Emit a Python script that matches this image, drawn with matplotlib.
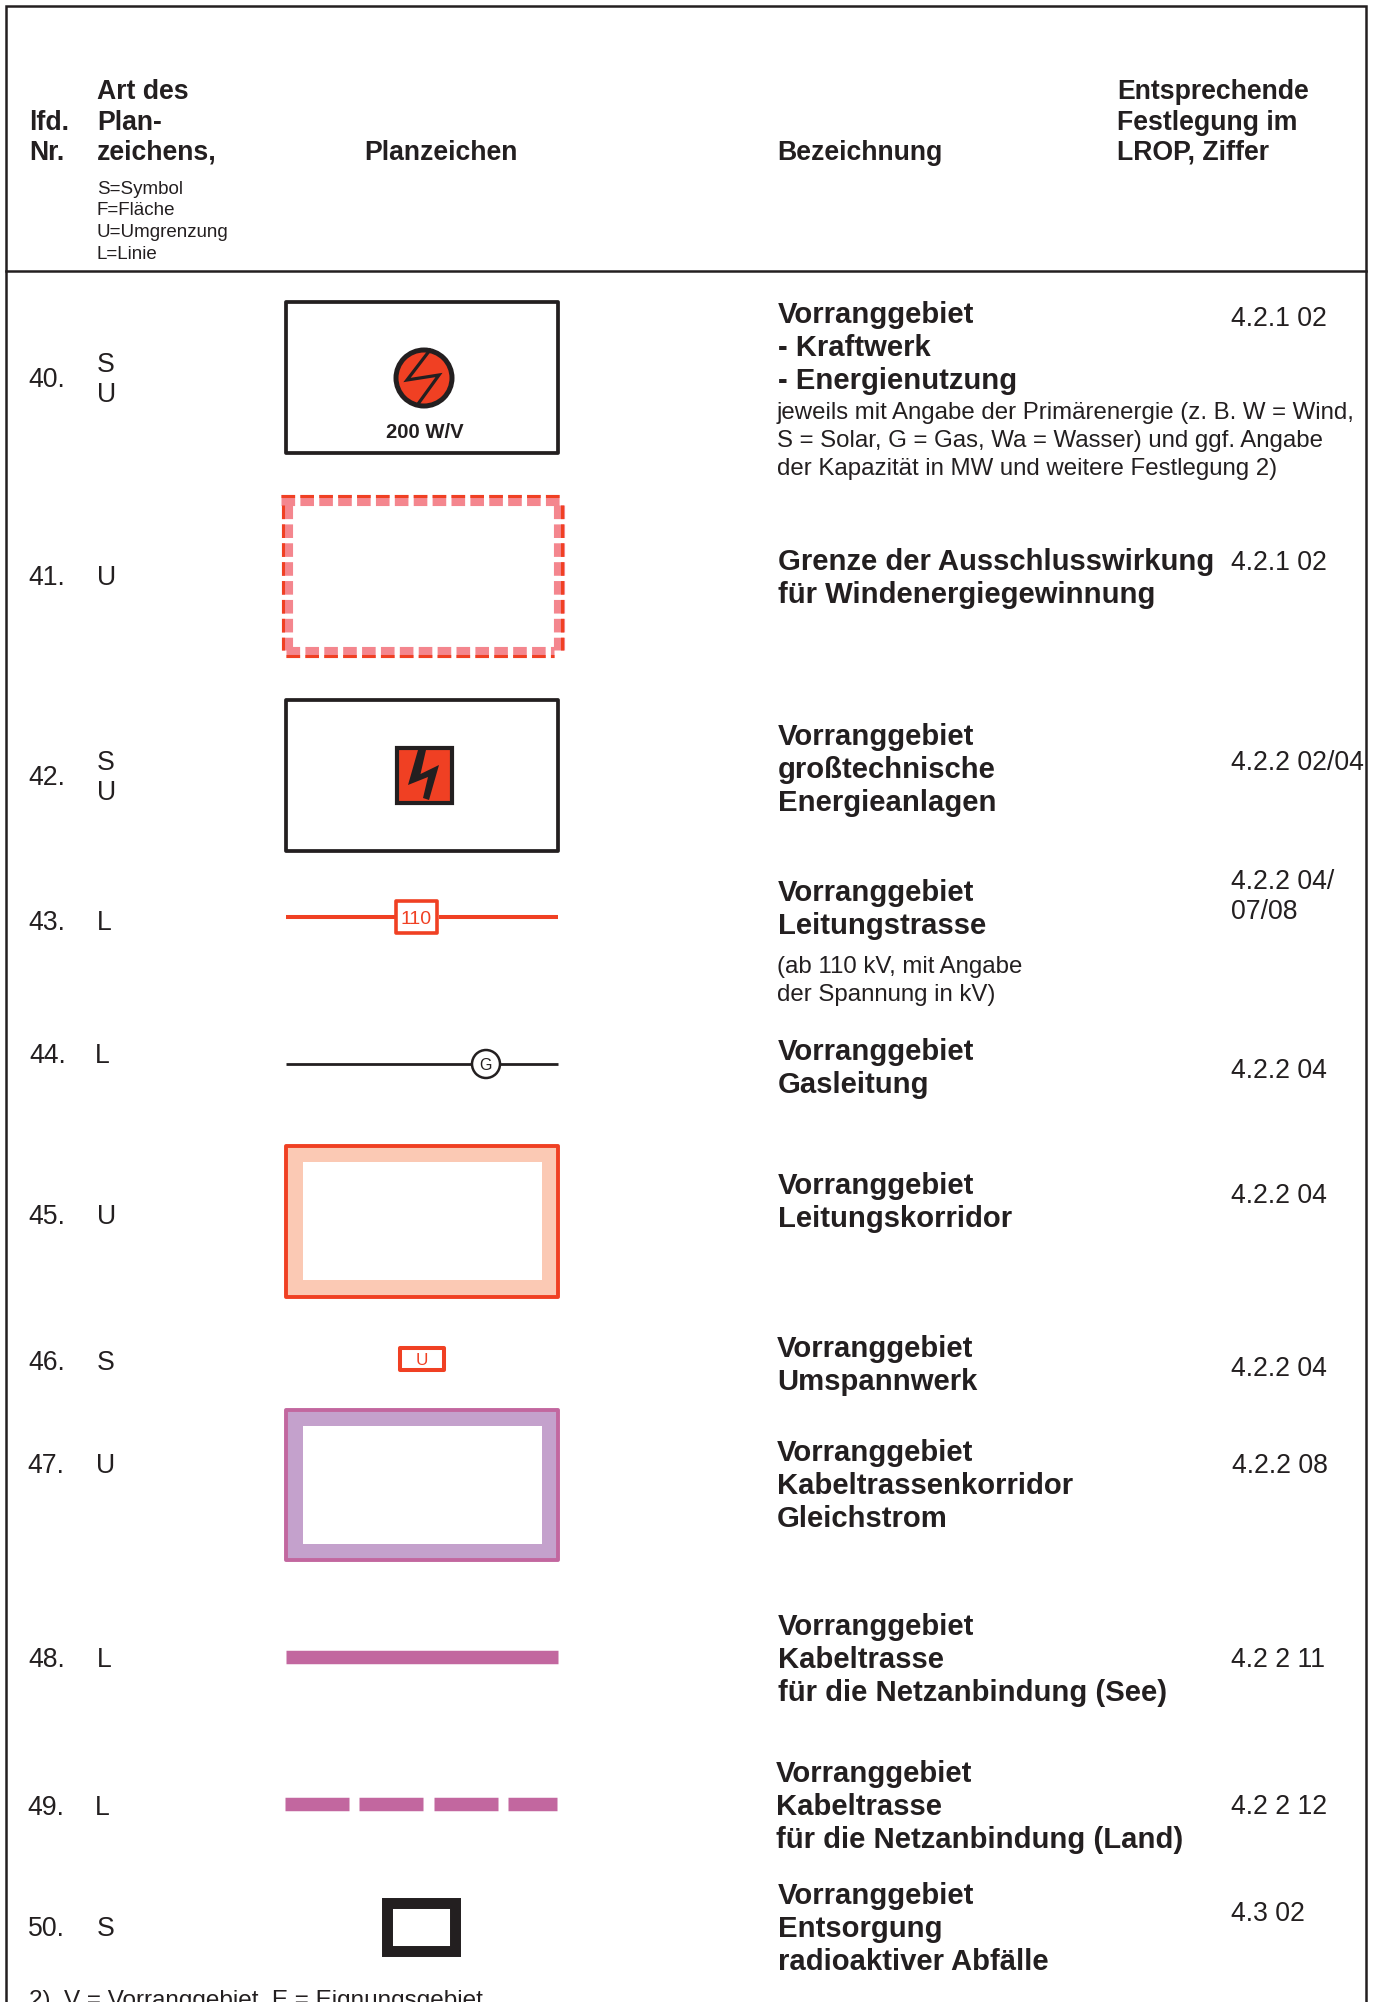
import matplotlib
matplotlib.use("Agg")
import matplotlib.pyplot as plt
from matplotlib.patches import Rectangle, Circle, Polygon

plt.rcParams['font.family'] = ['Liberation Sans', 'DejaVu Sans']
plt.rcParams['lines.scale_dashes'] = False

# table content
row_numbers = ["40.", "41.", "42.", "43.", "44.", "45.", "46.", "47.", "48.", "49.", "50."]
row_kinds = [["S", "U"], ["U"], ["S", "U"], ["L"], ["L"], ["U"], ["S"], ["U"], ["L"], ["L"], ["S"]]
row_titles = [
    ["Vorranggebiet", "- Kraftwerk", "- Energienutzung"],
    ["Grenze der Ausschlusswirkung", "für Windenergiegewinnung"],
    ["Vorranggebiet", "großtechnische", "Energieanlagen"],
    ["Vorranggebiet", "Leitungstrasse"],
    ["Vorranggebiet", "Gasleitung"],
    ["Vorranggebiet", "Leitungskorridor"],
    ["Vorranggebiet", "Umspannwerk"],
    ["Vorranggebiet", "Kabeltrassenkorridor", "Gleichstrom"],
    ["Vorranggebiet", "Kabeltrasse", "für die Netzanbindung (See)"],
    ["Vorranggebiet", "Kabeltrasse", "für die Netzanbindung (Land)"],
    ["Vorranggebiet", "Entsorgung", "radioaktiver Abfälle"],
]
row_refs = [["4.2.1 02"], ["4.2.1 02"], ["4.2.2 02/04"], ["4.2.2 04/", "07/08"], ["4.2.2 04"], ["4.2.2 04"],
            ["4.2.2 04"], ["4.2.2 08"], ["4.2 2 11"], ["4.2 2 12"], ["4.3 02"]]
note_40 = ["jeweils mit Angabe der Primärenergie (z. B. W = Wind,",
           "S = Solar, G = Gas, Wa = Wasser) und ggf. Angabe",
           "der Kapazität in MW und weitere Festlegung 2)"]
note_43 = ["(ab 110 kV, mit Angabe", "der Spannung in kV)"]
legend_lines = ["S=Symbol", "F=Fläche", "U=Umgrenzung", "L=Linie"]
footnote = "2)  V = Vorranggebiet, E = Eignungsgebiet"

# layout, pixels of the full image
num_x = [28, 28, 28, 28, 29, 28, 28, 27, 28, 27, 28]
num_y = [377, 575, 775, 920, 1053, 1214, 1360, 1463, 1657, 1805, 1926]
kind_x = [97, 97, 97, 97, 95, 97, 97, 96, 97, 95, 97]
title_x = [778, 778, 778, 778, 778, 778, 777, 777, 778, 776, 778]
title_y = [312, 559, 734, 890, 1049, 1183, 1346, 1450, 1624, 1771, 1893]
ref_x = [1231, 1231, 1231, 1231, 1231, 1231, 1231, 1232, 1231, 1231, 1231]
ref_y = [316, 560, 760, 879, 1068, 1193, 1366, 1463, 1657, 1804, 1911]

BLACK = "#231f20"
RED = "#f04023"
PINK = "#c2679f"
DASH_RED = "#f4868e"

fig = plt.figure(figsize=(13.77, 20.02), dpi=100)
ax = fig.add_axes([0, 0, 1, 1])
ax.set_xlim(0, 1377)
ax.set_ylim(2002, 0)
ax.axis("off")


def txt(x, y, s, size=19.2, weight="normal", color=BLACK, ha="left"):
    ax.text(x, y, s, fontsize=size, fontweight=weight, color=color, ha=ha, va="center_baseline")


def lines(x, y, items, pitch, **kw):
    for i, s in enumerate(items):
        txt(x, y + i * pitch, s, **kw)


def box(x0, y0, x1, y1, ec=BLACK, fc="none", lw=2.7, **kw):
    ax.add_patch(Rectangle((x0, y0), x1 - x0, y1 - y0, ec=ec, fc=fc, lw=lw, joinstyle="round", **kw))


def dashed_side(xs, ys, red_xs, red_ys):
    # one side of symbol 41, pink band with a thin red edge in the same rhythm
    style = (0, (9.8, 3.8))
    ax.plot(xs, ys, color=DASH_RED, lw=8, linestyle=style, dash_capstyle="butt")
    ax.plot(red_xs, red_ys, color=RED, lw=2.2, linestyle=style, dash_capstyle="butt")


# frame
ax.plot([6, 6, 1366, 1366], [2002, 6, 6, 2002], color=BLACK, lw=1.8, solid_joinstyle="miter")
ax.plot([6, 1366], [271, 271], color=BLACK, lw=1.8)

# header
lines(29, 120, ["lfd.", "Nr."], 30.5, size=19.2, weight="bold")
lines(97, 89, ["Art des", "Plan-", "zeichens,"], 30.5, size=19.2, weight="bold")
txt(364, 150, "Planzeichen", size=19.2, weight="bold")
txt(777, 150, "Bezeichnung", size=19.2, weight="bold")
lines(1117, 89, ["Entsprechende", "Festlegung im", "LROP, Ziffer"], 30.5, size=19.2, weight="bold")
lines(97, 187, legend_lines, 21.7, size=13.5)

# rows
for i in range(len(row_numbers)):
    txt(num_x[i], num_y[i], row_numbers[i])
    ky = num_y[i] - 15 if len(row_kinds[i]) == 2 else num_y[i]
    lines(kind_x[i], ky, row_kinds[i], 30)
    lines(title_x[i], title_y[i], row_titles[i], 33.2, size=21.1, weight="bold")
    lines(ref_x[i], ref_y[i], row_refs[i], 30)
lines(777, 410, note_40, 28, size=17.3)
lines(777, 964, note_43, 28, size=17.3)

# 40
box(286, 302, 558, 453)
ax.add_patch(Circle((424, 378), 28, fc=RED, ec=BLACK, lw=3.6))
ax.plot([430, 407, 439, 418], [350, 380, 375, 404], color=BLACK, lw=2.3, solid_joinstyle="miter")
ax.text(424.5, 430, "200 W/V", fontsize=14.6, fontweight="bold", color=BLACK, ha="center", va="center_baseline")

# 41
dashed_side([281, 564], [499.5, 499.5], [281, 564], [495.5, 495.5])
dashed_side([286.5, 286.5], [505, 650], [283, 283], [505, 650])
dashed_side([558.5, 558.5], [505, 650], [562, 562], [505, 650])
dashed_side([286, 554], [651.5, 651.5], [286, 554], [655.5, 655.5])

# 42
box(286, 700, 558, 851)
ax.add_patch(Rectangle((397, 748), 55, 55, fc=RED, ec=BLACK, lw=3.0))
ax.add_patch(Polygon([[418, 750], [426, 750], [420.5, 774], [439, 765], [429, 800], [423, 798], [428, 777], [408, 785]],
                     fc=BLACK, ec="none"))

# 43
ax.plot([286, 396], [917, 917], color=RED, lw=2.9, solid_capstyle="butt")
ax.plot([439, 558], [917, 917], color=RED, lw=2.9, solid_capstyle="butt")
box(396, 901, 437, 933, ec=RED, lw=2.6)
ax.text(416.5, 917, "110", fontsize=14, color=RED, ha="center", va="center_baseline")

# 44
ax.plot([286, 558], [1064, 1064], color=BLACK, lw=2.0, solid_capstyle="butt")
ax.add_patch(Circle((486, 1064), 14, fc="white", ec=BLACK, lw=1.8, zorder=3))
ax.text(486, 1064, "G", fontsize=11.5, color=BLACK, ha="center", va="center_baseline", zorder=4)

# 45
ax.add_patch(Rectangle((286, 1146), 272, 151, fc="#fbc9b4", ec=RED, lw=2.8, joinstyle="round"))
ax.add_patch(Rectangle((303, 1162), 239, 118, fc="white", ec="none"))

# 46
box(400, 1348, 444, 1370, ec=RED, lw=2.9, fc="white", zorder=2)
ax.text(422, 1359, "U", fontsize=12.3, color=RED, ha="center", va="center_baseline", zorder=3)

# 47
ax.add_patch(Rectangle((286, 1410), 272, 150, fc="#c4a1cc", ec=PINK, lw=2.8, joinstyle="round"))
ax.add_patch(Rectangle((303, 1426), 239, 118, fc="white", ec="none"))

# 48
ax.plot([286, 558], [1657, 1657], color=PINK, lw=9.7, solid_capstyle="butt")

# 49
for x0, x1 in [(285, 349), (359, 423), (434, 498), (508, 557)]:
    ax.plot([x0, x1], [1804, 1804], color=PINK, lw=9.7, solid_capstyle="butt")

# 50
ax.add_patch(Rectangle((387, 1902.5), 68, 48, fc="white", ec=BLACK, lw=7.9, joinstyle="miter"))

# footnote, cut off by the image edge as in the source
txt(29, 1998, footnote, size=17.45)

fig.savefig("out.png", dpi=100)
